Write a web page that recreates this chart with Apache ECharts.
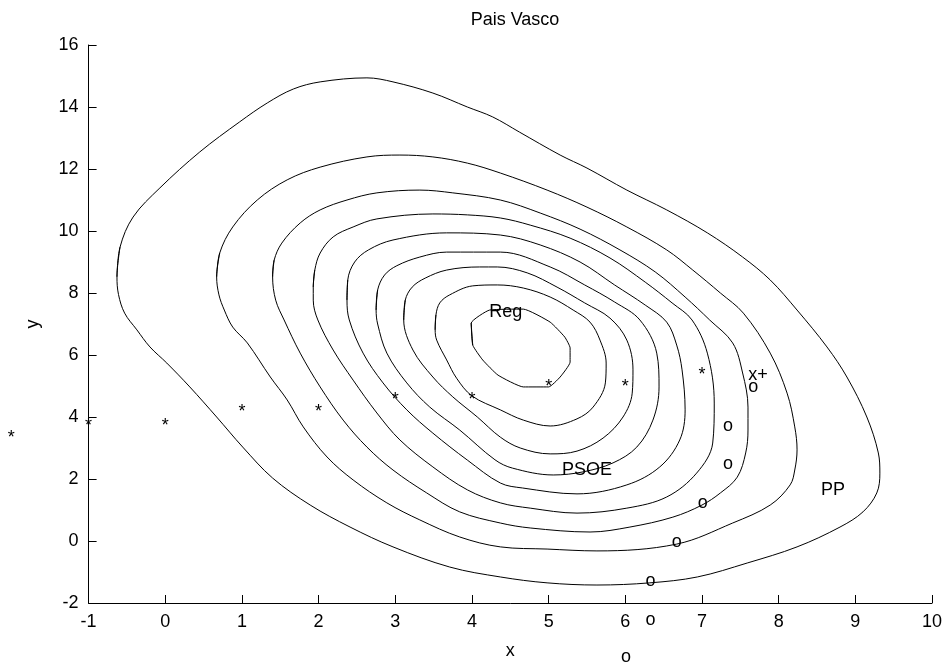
<!DOCTYPE html>
<html>
<head>
<meta charset="utf-8">
<title>Pais Vasco</title>
<script src="https://cdn.jsdelivr.net/npm/echarts@6/dist/echarts.min.js"></script>
<style>
  html, body { margin: 0; padding: 0; background: #ffffff; }
  #chart { width: 950px; height: 666px; }
</style>
</head>
<body>
<div id="chart"></div>
<script>
// Density contours (outermost first), each a closed ring of [x, y] points
const contour1 = [[-0.63,8.52],[-0.59,9.48],[-0.42,10.45],[-0.07,11.39],[0.45,12.55],[0.97,13.52],[1.33,14.13],[1.67,14.58],[2.02,14.81],[2.63,14.94],[2.97,14.81],[3.49,14.45],[3.94,14.0],[4.27,13.68],[4.62,13.19],[5.15,12.45],[5.50,12.03],[6.02,11.32],[6.54,10.68],[7.07,9.94],[7.53,9.16],[7.89,8.42],[8.24,7.45],[8.63,6.26],[8.89,5.29],[9.15,4.0],[9.30,2.84],[9.32,2.19],[9.28,1.55],[9.10,0.94],[8.80,0.45],[8.24,-0.19],[7.59,-0.71],[6.94,-1.16],[6.32,-1.35],[5.63,-1.42],[4.98,-1.35],[4.37,-1.16],[3.71,-0.84],[2.97,-0.19],[2.41,0.45],[1.89,1.16],[1.40,2.03],[1.01,3.03],[0.67,4.0],[0.32,4.97],[0.02,5.74],[-0.20,6.26],[-0.37,6.81],[-0.53,7.35],[-0.61,7.95],[-0.63,8.52]];
const contour2 = [[0.67,8.52],[0.71,9.29],[0.88,10.13],[1.20,11.0],[1.59,11.65],[2.02,12.06],[2.63,12.39],[3.06,12.45],[3.49,12.39],[3.94,12.19],[4.37,11.87],[4.98,11.32],[5.50,10.77],[6.02,10.13],[6.54,9.39],[6.88,8.74],[7.24,8.0],[7.54,7.35],[7.89,6.06],[8.11,4.77],[8.21,3.68],[8.24,2.94],[8.21,2.29],[8.15,1.81],[7.89,1.16],[7.40,0.58],[6.67,-0.10],[5.63,-0.32],[4.98,-0.26],[4.37,-0.19],[3.84,0.13],[3.32,0.68],[2.89,1.23],[2.45,1.97],[2.11,2.71],[1.80,3.68],[1.59,4.55],[1.37,5.29],[1.07,6.39],[0.88,6.90],[0.77,7.45],[0.70,7.94],[0.67,8.52]];
const contour3 = [[1.40,8.52],[1.42,9.06],[1.52,9.61],[1.76,10.26],[2.02,10.68],[2.37,11.0],[2.76,11.23],[3.32,11.32],[3.75,11.23],[4.37,11.0],[4.89,10.58],[5.41,10.06],[5.93,9.39],[6.39,8.68],[6.78,7.87],[7.10,7.13],[7.40,6.39],[7.53,5.42],[7.60,4.32],[7.60,3.58],[7.57,2.84],[7.46,2.06],[7.24,1.55],[7.00,1.16],[6.62,0.77],[6.06,0.45],[5.54,0.29],[4.76,0.42],[4.37,0.58],[3.84,0.94],[3.41,1.55],[2.97,2.29],[2.63,3.03],[2.32,3.90],[2.02,4.97],[1.76,6.06],[1.55,7.13],[1.44,7.77],[1.40,8.52]];
const contour4 = [[1.93,8.19],[1.95,8.74],[2.02,9.29],[2.19,9.81],[2.45,10.13],[2.76,10.39],[3.49,10.55],[3.94,10.52],[4.37,10.42],[4.76,10.19],[5.28,9.77],[5.80,9.13],[6.26,8.35],[6.61,7.68],[6.87,7.13],[7.07,6.06],[7.16,4.45],[7.14,3.16],[6.93,2.19],[6.54,1.42],[6.02,1.06],[5.37,0.90],[4.76,1.06],[4.37,1.23],[3.94,1.65],[3.49,2.39],[3.06,3.26],[2.76,4.13],[2.45,5.19],[2.19,6.16],[1.99,7.13],[1.93,7.77],[1.93,8.19]];
const contour5 = [[2.37,7.77],[2.38,8.42],[2.47,9.0],[2.65,9.39],[2.97,9.71],[3.67,9.94],[4.37,9.87],[4.89,9.55],[5.41,9.0],[5.86,8.26],[6.26,7.61],[6.54,7.06],[6.67,6.32],[6.74,5.52],[6.78,4.23],[6.71,3.26],[6.45,2.39],[6.02,1.81],[5.37,1.52],[4.66,1.71],[4.37,1.87],[3.94,2.61],[3.49,3.48],[3.15,4.23],[2.84,5.10],[2.58,6.06],[2.40,7.13],[2.37,7.77]];
const contour6 = [[2.75,7.45],[2.77,8.10],[2.86,8.58],[3.02,8.88],[3.32,9.16],[3.67,9.32],[4.37,9.32],[5.02,8.84],[5.47,8.26],[5.86,7.71],[6.19,7.13],[6.41,6.06],[6.44,4.97],[6.36,3.90],[6.15,3.03],[5.84,2.52],[5.45,2.23],[5.06,2.13],[4.53,2.35],[4.30,2.62],[3.84,3.58],[3.45,4.32],[3.15,5.10],[2.89,6.06],[2.77,7.0],[2.75,7.45]];
const contour7 = [[3.11,7.13],[3.13,7.77],[3.22,8.19],[3.39,8.48],[3.67,8.74],[4.10,8.84],[4.33,8.84],[4.72,8.65],[5.11,8.19],[5.47,7.68],[5.80,7.19],[6.02,6.48],[6.10,5.52],[6.09,4.77],[5.97,4.0],[5.71,3.32],[5.37,2.90],[5.02,2.81],[4.63,3.0],[4.37,3.35],[4.07,4.0],[3.75,4.65],[3.49,5.29],[3.23,6.16],[3.11,7.13]];
const contour8 = [[3.52,6.81],[3.53,7.29],[3.58,7.68],[3.71,7.94],[4.01,8.23],[4.33,8.26],[4.67,8.16],[5.02,7.87],[5.32,7.45],[5.54,7.06],[5.67,6.48],[5.75,5.74],[5.74,5.10],[5.58,4.32],[5.37,3.94],[5.02,3.71],[4.67,3.90],[4.37,4.23],[4.0,4.68],[3.80,5.25],[3.67,5.84],[3.54,6.48],[3.52,6.81]];
const contour9 = [[3.99,7.03],[4.01,6.32],[4.14,5.84],[4.34,5.35],[4.67,4.97],[5.0,4.97],[5.15,5.29],[5.28,5.77],[5.28,6.23],[5.21,6.58],[5.02,7.06],[4.67,7.48],[4.23,7.45],[3.99,7.03]];

// Observations drawn as "*"
const starX = [-2.01, -1.0, 0.0, 1.0, 2.0, 3.0, 4.0, 5.0, 6.0, 7.0];
const starY = [3.45, 3.85, 3.85, 4.28, 4.28, 4.68, 4.68, 5.09, 5.09, 5.49];

// Observations drawn as "o"
const ringX = [7.67, 7.34, 7.34, 7.01, 6.67, 6.33, 6.33, 6.01];
const ringY = [4.93, 3.69, 2.45, 1.19, -0.06, -1.32, -2.58, -3.77];

// Party / region annotations
const noteText = ['Reg', 'PSOE', 'PP', 'x+'];
const noteX = [4.44, 5.50, 8.71, 7.73];
const noteY = [7.40, 2.29, 1.65, 5.35];

const FONT = "'Liberation Sans', Arial, Helvetica, sans-serif";
const INK = '#000000';

const contours = [contour1, contour2, contour3, contour4, contour5,
                  contour6, contour7, contour8, contour9];

// Each ring is closed; running one point past the seam keeps the smoothed join round.
const contourSeries = contours.map((ring, i) => ({
  type: 'line',
  data: ring.concat([ring[1]]),
  showSymbol: false,
  symbol: 'none',
  smooth: i === contours.length - 1 ? 0.15 : 0.35,
  lineStyle: { color: INK, width: 1 },
  silent: true,
  z: 2
}));

function textMarks(xs, ys, labelFor, dy) {
  return {
    type: 'scatter',
    clip: false,
    symbolSize: 1,
    itemStyle: { color: 'rgba(0,0,0,0)' },
    data: xs.map((x, i) => ({ value: [x, ys[i]], name: labelFor(i) })),
    label: {
      show: true,
      position: 'inside',
      formatter: p => p.name,
      color: INK,
      opacity: 1,
      textBorderWidth: 0,
      fontSize: 18,
      fontFamily: FONT,
      offset: [0, dy]
    },
    silent: true,
    z: 5
  };
}

const chart = echarts.init(document.getElementById('chart'), null, { renderer: 'canvas' });

chart.setOption({
  animation: false,
  backgroundColor: '#ffffff',
  title: {
    text: 'Pais Vasco',
    left: 510,
    textAlign: 'center',
    top: 6,
    textStyle: { color: INK, fontSize: 18, fontWeight: 'normal', fontFamily: FONT }
  },
  grid: { left: 88.6, right: 18, top: 45, bottom: 63, containLabel: false },
  xAxis: {
    type: 'value',
    min: -1,
    max: 10,
    interval: 1,
    name: 'x',
    nameLocation: 'middle',
    nameGap: 39,
    nameTextStyle: { color: INK, fontSize: 18, fontFamily: FONT },
    axisLine: { show: true, onZero: false, lineStyle: { color: INK, width: 1 } },
    axisTick: { show: true, inside: true, length: 8, lineStyle: { color: INK, width: 1 } },
    axisLabel: { color: INK, fontSize: 18, fontFamily: FONT, margin: 10 },
    splitLine: { show: false }
  },
  yAxis: {
    type: 'value',
    min: -2,
    max: 16,
    interval: 2,
    name: 'y',
    nameLocation: 'middle',
    nameRotate: 90,
    nameGap: 47,
    nameTextStyle: { color: INK, fontSize: 18, fontFamily: FONT },
    axisLine: { show: true, onZero: false, lineStyle: { color: INK, width: 1 } },
    axisTick: { show: true, inside: true, length: 8, lineStyle: { color: INK, width: 1 } },
    axisLabel: { color: INK, fontSize: 18, fontFamily: FONT, margin: 10 },
    splitLine: { show: false }
  },
  series: [
    ...contourSeries,
    textMarks(starX, starY, () => '*', 4),
    textMarks(ringX, ringY, () => 'o', -1),
    textMarks(noteX, noteY, i => noteText[i], 0)
  ]
});
</script>
</body>
</html>
